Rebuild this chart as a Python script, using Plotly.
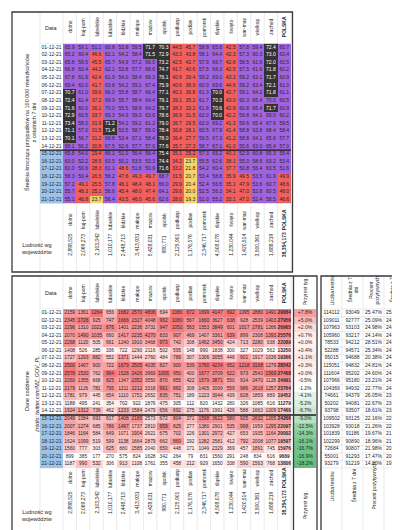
import plotly.graph_objects as go

# ---------------- data ----------------
regions = ["dolno", "kuj-pom", "lubelskie", "lubuskie", "łódzkie", "małopo", "mazow", "opolsk",
           "podkarp", "podlas", "pomorsk", "śląskie", "święto", "war-maz", "wielkop", "zachod", "POLSKA"]
dates = ["01-12-21", "02-12-21", "03-12-21", "04-12-21", "05-12-21", "06-12-21", "07-12-21",
         "08-12-21", "09-12-21", "10-12-21", "11-12-21", "12-12-21", "13-12-21", "14-12-21",
         "15-12-21", "16-12-21", "17-12-21", "18-12-21", "19-12-21", "20-12-21", "21-12-21"]
population = [2898525, 2069273, 2103342, 1010177, 2448713, 3413931, 5428031, 980771, 2125901,
              1176576, 2346717, 4508078, 1230044, 1420514, 3500361, 1688219, 38354173]

# 7-day rolling average of cases per 100k (rows = dates, cols = regions)
avg_rows = [
    [65.9, 59.1, 51.1, 60.8, 53.8, 59.5, 71.7, 70.3, 44.5, 45.7, 58.8, 65.8, 42.5, 57.8, 59.4, 72.4, 60.7],
    [65.2, 60.4, 46.6, 62.1, 54.2, 58.4, 71.5, 72.9, 43.3, 43.8, 58.1, 64.4, 42.3, 57.3, 60.3, 73.0, 60.4],
    [65.8, 59.5, 45.5, 65.7, 54.9, 57.2, 69.5, 73.2, 42.5, 42.7, 57.9, 66.7, 42.6, 58.5, 61.6, 72.0, 60.5],
    [66.8, 60.4, 44.2, 62.1, 53.8, 57.7, 68.6, 74.7, 41.7, 40.6, 57.5, 68.3, 42.5, 57.5, 61.6, 71.8, 60.2],
    [67.8, 61.6, 42.4, 61.9, 54.0, 58.4, 69.3, 76.1, 40.9, 39.4, 59.2, 69.0, 43.3, 59.2, 63.1, 71.7, 60.9],
    [69.4, 60.0, 41.7, 63.8, 54.2, 59.1, 67.4, 75.9, 40.6, 38.9, 60.0, 69.6, 44.6, 59.2, 63.4, 72.1, 61.0],
    [70.7, 61.0, 39.6, 66.0, 55.8, 58.7, 66.4, 77.1, 40.3, 36.8, 61.3, 70.02, 42.7, 59.1, 64.2, 71.8, 61.1],
    [72.4, 61.4, 37.2, 69.9, 55.7, 58.4, 64.4, 79.1, 39.1, 35.2, 61.7, 70.3, 43.0, 60.3, 65.4, 69.97, 60.5],
    [71.6, 60.0, 36.1, 69.97, 55.5, 58.9, 64.2, 79.7, 38.3, 33.2, 61.8, 70.6, 42.8, 60.8, 65.4, 71.7, 60.9],
    [72.9, 60.5, 33.7, 69.3, 54.9, 59.3, 63.6, 78.6, 36.9, 31.5, 62.0, 70.02, 42.2, 59.8, 64.1, 69.0, 60.2],
    [73.4, 58.0, 31.9, 71.2, 54.2, 59.2, 61.2, 79.0, 36.7, 29.5, 62.0, 69.2, 41.3, 59.6, 65.4, 67.9, 59.5],
    [71.1, 57.0, 31.5, 71.4, 53.5, 58.7, 59.0, 78.4, 36.8, 28.1, 60.5, 67.9, 41.4, 58.8, 63.8, 68.4, 58.4],
    [70.1, 56.7, 31.2, 68.8, 53.4, 57.1, 58.4, 78.0, 36.4, 27.7, 59.5, 67.3, 41.2, 58.8, 64.1, 65.6, 57.7],
    [68.1, 56.2, 30.8, 67.5, 52.6, 57.7, 57.6, 77.6, 35.7, 27.3, 58.7, 67.1, 41.0, 55.6, 63.0, 65.4, 57.0],
    [65.8, 54.0, 29.4, 66.1, 51.0, 56.4, 56.4, 75.4, 35.1, 25.2, 57.3, 65.2, 40.1, 52.9, 60.8, 65.3, 55.4],
    [63.0, 52.2, 28.5, 63.5, 50.2, 53.5, 53.3, 74.4, 34.2, 23.7, 55.5, 62.6, 38.1, 55.0, 58.6, 63.2, 53.4],
    [61.0, 50.6, 28.3, 61.1, 48.6, 51.6, 50.9, 71.6, 33.2, 21.8, 54.2, 60.4, 37.7, 50.8, 56.4, 63.5, 51.6],
    [58.3, 50.4, 26.5, 58.2, 47.6, 49.3, 49.7, 68.7, 31.5, 20.7, 53.4, 58.8, 35.9, 49.5, 53.5, 61.9, 49.9],
    [57.2, 49.1, 25.5, 57.8, 46.1, 48.4, 48.1, 66.0, 29.9, 20.4, 52.4, 56.5, 35.1, 47.9, 53.6, 60.7, 48.6],
    [55.7, 48.3, 25.1, 56.6, 45.4, 48.0, 47.4, 64.1, 29.6, 20.0, 52.5, 56.3, 34.1, 47.0, 52.8, 60.5, 48.0],
    [55.1, 46.8, 23.7, 56.4, 43.5, 46.0, 45.6, 62.6, 28.0, 19.3, 51.0, 55.2, 33.1, 47.0, 52.4, 58.5, 46.6],
]

# daily cases
daily_rows = [
    [2159, 1361, 1264, 656, 1682, 2570, 4806, 694, 1080, 672, 1699, 4147, 692, 1095, 2880, 1491, 29064],
    [2345, 1726, 925, 747, 1666, 2327, 4048, 962, 1080, 567, 1660, 3627, 638, 928, 2539, 1403, 27956],
    [2296, 1310, 1022, 876, 1401, 2236, 3731, 947, 1050, 563, 1553, 3849, 601, 1017, 2781, 1266, 26965],
    [2070, 1490, 1035, 660, 1417, 2235, 4270, 833, 907, 469, 1407, 3361, 639, 899, 2308, 1393, 25576],
    [2268, 1120, 505, 661, 1240, 1910, 3468, 973, 742, 308, 1462, 3450, 424, 713, 2280, 938, 22089],
    [1408, 526, 285, 336, 722, 1290, 2116, 502, 595, 148, 990, 1838, 300, 327, 1029, 562, 13250],
    [1727, 1293, 882, 552, 1371, 1444, 2760, 484, 789, 307, 1306, 3055, 446, 901, 1917, 1036, 19366],
    [2500, 1407, 900, 722, 1679, 2505, 4035, 827, 900, 539, 1760, 4234, 652, 1218, 3168, 1279, 28542],
    [2578, 1530, 762, 964, 1528, 2426, 3969, 1006, 950, 400, 1677, 3709, 622, 973, 2543, 1569, 27468],
    [2260, 1355, 668, 825, 1347, 2352, 3550, 870, 855, 422, 1579, 3871, 550, 914, 2470, 1128, 24991],
    [2179, 1126, 781, 795, 1311, 2212, 3318, 961, 882, 308, 1405, 3099, 559, 986, 2618, 1257, 23764],
    [1781, 979, 445, 654, 1110, 1751, 2652, 835, 751, 189, 1223, 3044, 439, 828, 1859, 889, 19452],
    [1188, 495, 241, 354, 702, 922, 1876, 475, 305, 112, 820, 1432, 280, 326, 1085, 616, 11279],
    [1924, 1312, 739, 462, 1233, 1584, 2479, 656, 692, 275, 1176, 1991, 426, 588, 1663, 1009, 17460],
    [2049, 1084, 693, 617, 1408, 2180, 2573, 672, 804, 371, 1598, 3622, 580, 925, 2632, 1265, 24266],
    [2007, 1274, 685, 786, 1497, 1737, 2810, 959, 825, 277, 1380, 2901, 535, 998, 1959, 1295, 22097],
    [1846, 1164, 584, 649, 1071, 1904, 2621, 675, 702, 226, 1301, 2972, 427, 653, 1935, 1164, 20002],
    [1624, 1099, 519, 599, 1138, 1664, 2879, 662, 869, 192, 1282, 2581, 412, 792, 2008, 1077, 19597],
    [1560, 777, 303, 625, 880, 1585, 2040, 650, 448, 171, 1049, 2329, 369, 457, 1891, 745, 15976],
    [899, 385, 177, 270, 575, 824, 1628, 342, 264, 79, 831, 1560, 291, 248, 834, 616, 9689],
    [1187, 990, 532, 306, 913, 1108, 1761, 355, 458, 212, 929, 1650, 338, 590, 1563, 768, 13806],
]

growth_pct = [7.8, 5.0, 2.0, 0.7, 0.0, 0.4, 1.1, 0.3, 0.0, -0.5, -1.2, -4.1, -5.2, -6.7,
              -9.0, -12.5, -14.3, -16.1, -16.7, -16.9, -18.2]

tests = [114112, 109011, 107963, 105960, 78533, 52288, 95015, 115051, 111604, 107966, 104369,
         74661, 50202, 93798, 109502, 103928, 101839, 102299, 72684, 55001, 93279]
tests_avg7 = [93049, 92777, 93103, 93217, 94212, 94571, 94688, 94832, 95202, 95180, 94932,
              94379, 94081, 93507, 93125, 93018, 91186, 90890, 90807, 91293, 91219]
positive_pct = [25.47, 25.09, 24.98, 24.14, 28.51, 25.34, 20.38, 24.81, 24.60, 23.21, 22.77,
                26.05, 22.67, 18.61, 22.16, 21.26, 19.67, 18.96, 21.98, 17.47, 14.80]
positive_avg7 = [25.01, 24.96, 24.91, 24.78, 24.80, 24.78, 24.74, 24.62, 24.54, 24.26, 24.04,
                 23.74, 23.51, 23.28, 22.82, 22.26, 21.69, 21.07, 20.59, 20.16, 19.60]

rt_cols = ["tests", "tests_avg7", "positive_pct", "positive_avg7"]
rt_head = ["Liczba testów", "Średnia z 7<br>dni", "Procent<br>pozytywnych", "Średnia z 7<br>dni"]
rt_foot = ["Liczba testów", "Średnia z 7 dni", "Procent pozytywnych", "Średnia z 7 dni"]

# ---------------- layout geometry (pixels) ----------------
W, H = 400, 530
FONT = "Liberation Sans Narrow, Liberation Sans, Arial, sans-serif"
TXT = "#262626"
GRID = "#dcdcdc"
BORDER = "#3a3a3a"

L_OUT = 4
L_DATE, R_DATE = 32, 55
L_DATA, R_DATA = 55, 283
TOP_BOX = (4, 264)       # y top, y bottom (px)
TOP_ROWS = (35.5, 195.5)
BOT_BOX = (268, 528)
BOT_ROWS = (301, 460)
PRZ = (286, 308)
RT = (313, 397)


def px(x):
    return x / W


def py(y):
    return 1 - y / H


n_r, n_c = len(dates), len(regions)
fig = go.Figure()

# ---------------- top table ----------------
top_cs = [[0, "#f6d46a"], [0.25, "#f6d46a"], [0.25, "#f1605f"], [0.5, "#f1605f"],
          [0.5, "#a063de"], [0.7, "#a063de"], [0.7, "#333333"], [1, "#333333"]]
fig.add_trace(go.Heatmap(z=avg_rows, x=regions, y=dates, zmin=0, zmax=100, colorscale=top_cs,
                         showscale=False, hoverinfo="skip", xaxis="x", yaxis="y"))
tx, ty, tt, tc = [], [], [], []
for i, d in enumerate(dates):
    for j, r in enumerate(regions):
        v = avg_rows[i][j]
        tx.append(r); ty.append(d); tt.append(f"{v:.1f}")
        tc.append("white" if v >= 70 else TXT)
fig.add_trace(go.Scatter(x=tx, y=ty, text=tt, mode="text", textfont=dict(size=5, color=tc, family=FONT),
                         hoverinfo="skip", xaxis="x", yaxis="y", cliponaxis=False))

flag = [[0 if i < 14 else 1] for i in range(n_r)]
date_cs = [[0, "#ffffff"], [1, "#9dc3e6"]]
fig.add_trace(go.Heatmap(z=flag, x=["Data"], y=dates, zmin=0, zmax=1, colorscale=date_cs, showscale=False,
                         hoverinfo="skip", xaxis="x2", yaxis="y"))
fig.add_trace(go.Scatter(x=["Data"] * n_r, y=dates, text=dates, mode="text",
                         textfont=dict(size=5, color=TXT, family=FONT), hoverinfo="skip",
                         xaxis="x2", yaxis="y", cliponaxis=False))

# ---------------- bottom table ----------------
cmin = [min(row[j] for row in daily_rows) for j in range(n_c)]
cmax = [max(row[j] for row in daily_rows) for j in range(n_c)]
znorm = [[(row[j] - cmin[j]) / (cmax[j] - cmin[j]) for j in range(n_c)] for row in daily_rows]
fig.add_trace(go.Heatmap(z=znorm, x=regions, y=dates, zmin=0, zmax=1,
                         colorscale=[[0, "#ffffff"], [1, "#f3777a"]], showscale=False, hoverinfo="skip",
                         xaxis="x3", yaxis="y2"))
bx, by, bt = [], [], []
for i, d in enumerate(dates):
    for j, r in enumerate(regions):
        v = daily_rows[i][j]
        bx.append(r); by.append(d)
        bt.append(f"<b>{v}</b>" if r == "POLSKA" else f"{v}")
fig.add_trace(go.Scatter(x=bx, y=by, text=bt, mode="text", textfont=dict(size=4.8, color=TXT, family=FONT),
                         hoverinfo="skip", xaxis="x3", yaxis="y2", cliponaxis=False))
fig.add_trace(go.Heatmap(z=flag, x=["Data"], y=dates, zmin=0, zmax=1, colorscale=date_cs, showscale=False,
                         hoverinfo="skip", xaxis="x4", yaxis="y2"))
fig.add_trace(go.Scatter(x=["Data"] * n_r, y=dates, text=dates, mode="text",
                         textfont=dict(size=5, color=TXT, family=FONT), hoverinfo="skip",
                         xaxis="x4", yaxis="y2", cliponaxis=False))

# weekly growth column
gmin, gmax = min(growth_pct), max(growth_pct)
gmed = sorted(growth_pct)[len(growth_pct) // 2]
mid = (gmed - gmin) / (gmax - gmin)
fig.add_trace(go.Heatmap(z=[[g] for g in growth_pct], x=["Przyrost"], y=dates, zmin=gmin, zmax=gmax,
                         colorscale=[[0, "#63be7b"], [mid, "#ffffff"], [1, "#f8a0a0"]], showscale=False,
                         hoverinfo="skip", xaxis="x5", yaxis="y2"))
fig.add_trace(go.Scatter(x=["Przyrost"] * n_r, y=dates, text=[f"{g:+.1f}%" for g in growth_pct], mode="text",
                         textfont=dict(size=5, color=TXT, family=FONT), hoverinfo="skip",
                         xaxis="x5", yaxis="y2", cliponaxis=False))

# right table (tests)
rt_vals = [tests, tests_avg7, [f"{v:.2f}%" for v in positive_pct], [f"{v:.2f}%" for v in positive_avg7]]
rx, ry, rtt = [], [], []
for k, col in enumerate(rt_cols):
    for i, d in enumerate(dates):
        rx.append(col); ry.append(d); rtt.append(str(rt_vals[k][i]))
fig.add_trace(go.Scatter(x=rx, y=ry, text=rtt, mode="text", textfont=dict(size=5, color=TXT, family=FONT),
                         hoverinfo="skip", xaxis="x6", yaxis="y2", cliponaxis=False))

# ---------------- axes ----------------
hid = dict(visible=False, showgrid=False, zeroline=False, fixedrange=True)
cat_x = dict(type="category", categoryorder="array", categoryarray=regions, range=[-0.5, n_c - 0.5], **hid)
cat_y = dict(type="category", categoryorder="array", categoryarray=dates, range=[n_r - 0.5, -0.5], **hid)
one = dict(type="category", range=[-0.5, 0.5], **hid)
fig.update_layout(
    width=W, height=H, margin=dict(l=0, r=0, t=0, b=0, pad=0),
    paper_bgcolor="white", plot_bgcolor="rgba(0,0,0,0)", showlegend=False,
    xaxis=dict(domain=[px(L_DATA), px(R_DATA)], anchor="y", **cat_x),
    yaxis=dict(domain=[py(TOP_ROWS[1]), py(TOP_ROWS[0])], anchor="x", **cat_y),
    xaxis2=dict(domain=[px(L_DATE), px(R_DATE)], anchor="y", **one),
    xaxis3=dict(domain=[px(L_DATA), px(R_DATA)], anchor="y2", **cat_x),
    yaxis2=dict(domain=[py(BOT_ROWS[1]), py(BOT_ROWS[0])], anchor="x3", **cat_y),
    xaxis4=dict(domain=[px(L_DATE), px(R_DATE)], anchor="y2", **one),
    xaxis5=dict(domain=[px(PRZ[0]), px(PRZ[1])], anchor="y2", **one),
    xaxis6=dict(domain=[px(RT[0]), px(RT[1])], anchor="y2", type="category", categoryorder="array",
                categoryarray=rt_cols, range=[-0.5, 3.5], **hid),
)

# ---------------- annotations ----------------
ann = []


def note(text, x, y, xref="paper", size=5, angle=-90, bold=False, italic=False):
    t = text
    if bold:
        t = f"<b>{t}</b>"
    if italic:
        t = f"<i>{t}</i>"
    ann.append(dict(text=t, x=x, y=y, xref=xref, yref="paper", showarrow=False, textangle=angle,
                    xanchor="center", yanchor="middle", font=dict(size=size, family=FONT, color=TXT)))


for xr, yh, yn, yp in (("x", 19, 212, 237), ("x3", 285, 470, 495)):
    for j, r in enumerate(regions):
        note(r, r, py(yh), xref=xr, bold=(r == "POLSKA"))
        note(r, r, py(yn), xref=xr, bold=(r == "POLSKA"))
        note(f"{population[j]:,}", r, py(yp), xref=xr, bold=(r == "POLSKA"))

note("Data", "Data", py(20), xref="x2", angle=0, size=5.5)
note("Data", "Data", py(285), xref="x4", angle=0, size=5.5)
note("Ludność wg<br>województw", px(29), py(240), angle=0, size=5.5)
note("Ludność wg<br>województw", px(29), py(507), angle=0, size=5.5)
note("Średnia krocząca przypadków na 100 000 mieszkańców<br>z ostatnich 7 dni", px(22), py(115), size=5.5)
note("Dane codzienne", px(19), py(383), size=5.5)
note("źródło: twitter.com/MZ_GOV_PL", px(29), py(386), size=5.3, italic=True)
note("Przyrost tyg.", "Przyrost", py(283), xref="x5")
note("Przyrost tyg.", "Przyrost", py(497), xref="x5")
for k, col in enumerate(rt_cols):
    note(rt_head[k], col, py(282), xref="x6")
    note(rt_foot[k], col, py(478), xref="x6")
fig.update_layout(annotations=ann)

# ---------------- grid lines & borders ----------------
shapes = []


def line(x0, y0, x1, y1, color=GRID, width=0.6, layer="below"):
    shapes.append(dict(type="line", xref="paper", yref="paper", x0=px(x0), y0=py(y0), x1=px(x1), y1=py(y1),
                       line=dict(color=color, width=width), layer=layer))


cw = (R_DATA - L_DATA) / n_c
for (yt, yb) in (TOP_BOX, BOT_BOX):
    for k in range(n_c + 1):
        line(L_DATA + k * cw, yt, L_DATA + k * cw, yb)
    line(L_DATE, yt, L_DATE, yb)
for (r0, r1) in (TOP_ROWS, BOT_ROWS):
    rh = (r1 - r0) / n_r
    for k in range(n_r + 1):
        line(L_DATE, r0 + k * rh, R_DATE, r0 + k * rh)
rh = (BOT_ROWS[1] - BOT_ROWS[0]) / n_r
rcw = (RT[1] - RT[0]) / 4
for k in range(n_r + 1):
    line(RT[0], BOT_ROWS[0] + k * rh, RT[1], BOT_ROWS[0] + k * rh)
for k in range(5):
    line(RT[0] + k * rcw, BOT_BOX[0], RT[0] + k * rcw, BOT_BOX[1])

# separators between weeks
rh_top = (TOP_ROWS[1] - TOP_ROWS[0]) / n_r
line(L_DATE, TOP_ROWS[0] + 14 * rh_top, R_DATA, TOP_ROWS[0] + 14 * rh_top, color="#1a1a1a", width=1.4, layer="above")
line(L_DATE, BOT_ROWS[0] + 14 * rh, PRZ[1], BOT_ROWS[0] + 14 * rh, color="#1a1a1a", width=1.4, layer="above")

# outer borders
for (x0, y0, x1, y1) in ((L_OUT, TOP_BOX[0], 284.5, TOP_BOX[1]), (L_OUT, BOT_BOX[0], 309, BOT_BOX[1]),
                         (RT[0], BOT_BOX[0], RT[1], BOT_BOX[1])):
    shapes.append(dict(type="rect", xref="paper", yref="paper", x0=px(x0), y0=py(y0), x1=px(x1), y1=py(y1),
                       line=dict(color=BORDER, width=1.3), layer="above"))
line(PRZ[0] - 0.5, BOT_BOX[0], PRZ[0] - 0.5, BOT_BOX[1], color=BORDER, width=1.3, layer="above")
fig.update_layout(shapes=shapes)

fig.write_html("out.html")
